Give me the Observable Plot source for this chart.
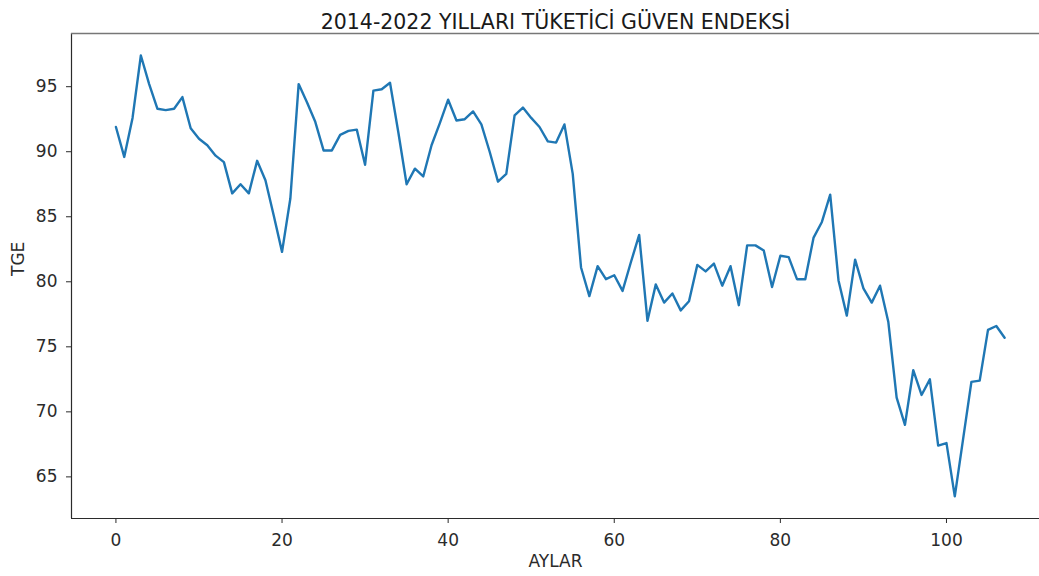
<!DOCTYPE html>
<html>
<head>
<meta charset="utf-8">
<script src="https://cdn.jsdelivr.net/npm/d3@7"></script>
<script src="https://cdn.jsdelivr.net/npm/@observablehq/plot@0.6"></script>
<style>
  html, body { margin: 0; padding: 0; background: #fff; overflow: hidden; }
  #chart svg { display: block; }
</style>
</head>
<body>
<div id="chart"></div>
<script>
// Tüketici güven endeksi (TGE), aylık, 2014-2022 (ay sırası 0..107)
const tge = [
  91.9, 89.6, 92.6, 97.4, 95.2, 93.3, 93.2, 93.3, 94.2, 91.8,
  91.0, 90.5, 89.7, 89.2, 86.8, 87.5, 86.8, 89.3, 87.8, 85.1,
  82.3, 86.4, 95.2, 93.8, 92.3, 90.1, 90.1, 91.3, 91.6, 91.7,
  89.0, 94.7, 94.8, 95.3, 91.5, 87.5, 88.7, 88.1, 90.5, 92.2,
  94.0, 92.4, 92.5, 93.1, 92.1, 90.0, 87.7, 88.3, 92.8, 93.4,
  92.6, 91.9, 90.8, 90.7, 92.1, 88.3, 81.1, 78.9, 81.2, 80.2,
  80.5, 79.3, 81.5, 83.6, 77.0, 79.8, 78.4, 79.1, 77.8, 78.5,
  81.3, 80.8, 81.4, 79.7, 81.2, 78.2, 82.8, 82.8, 82.4, 79.6,
  82.0, 81.9, 80.2, 80.2, 83.4, 84.6, 86.7, 80.1, 77.4, 81.7,
  79.5, 78.4, 79.7, 76.9, 71.1, 69.0, 73.2, 71.3, 72.5, 67.4,
  67.6, 63.5, 67.9, 72.3, 72.4, 76.3, 76.6, 75.7
];
const months = d3.range(tge.length);

const xTicks = [0, 20, 40, 60, 80, 100];
const yTicks = [65, 70, 75, 80, 85, 90, 95];

const titleText = "2014-2022 YILLARI TÜKETİCİ GÜVEN ENDEKSİ";
const xLabel = "AYLAR";
const yLabel = "TGE";

// Axis extents with a small margin around the data
const xDomain = [-5.35, 111.2];
const yDomain = [61.8, 99.09];

const rows = months.map((m, i) => ({month: m, value: tge[i]}));
const ink = "#2b2b2b";
const labelSize = 17;

const chart = Plot.plot({
  width: 1039,
  height: 576,
  marginLeft: 71,
  marginRight: 0,
  marginTop: 33,
  marginBottom: 58,
  style: {fontFamily: "DejaVu Sans, sans-serif", fontSize: labelSize + "px", color: ink, background: "#fff"},
  x: {domain: xDomain},
  y: {domain: yDomain},
  marks: [
    Plot.axisX({ticks: xTicks, tickSize: 5, tickPadding: 10, label: null, fontSize: labelSize, stroke: ink}),
    Plot.axisY({ticks: yTicks, tickSize: 5, tickPadding: 9, label: null, fontSize: labelSize, stroke: ink}),
    Plot.ruleX([xDomain[0]], {stroke: ink, strokeWidth: 1.2}),
    Plot.ruleY([yDomain[0]], {stroke: ink, strokeWidth: 1.2}),
    Plot.ruleY([yDomain[1]], {stroke: "#777", strokeWidth: 1.5}),
    Plot.line(rows, {x: "month", y: "value", stroke: "#1f77b4", strokeWidth: 2.4}),
    Plot.text([titleText], {text: d => d, frameAnchor: "top", dy: -19, fontSize: 20.5, fill: "#1a1a1a"}),
    Plot.text([xLabel], {text: d => d, frameAnchor: "bottom", dy: 48, fontSize: labelSize, fill: ink}),
    Plot.text([yLabel], {text: d => d, frameAnchor: "left", dx: -53, rotate: -90, fontSize: labelSize, fill: ink})
  ]
});

document.getElementById("chart").append(chart);
</script>
</body>
</html>
